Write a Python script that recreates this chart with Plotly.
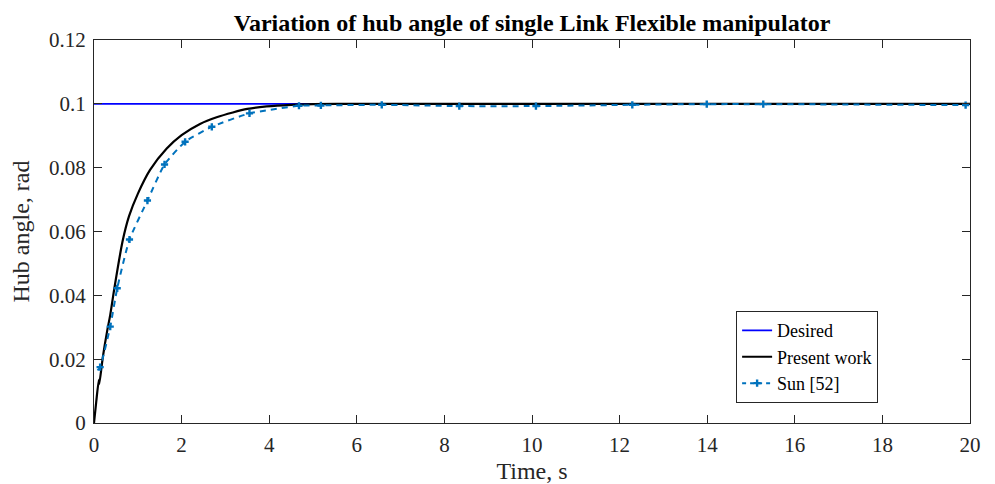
import plotly.graph_objects as go

# ---- data ----
desired_t = [0, 20]
desired_y = [0.1, 0.1]

present_t = [0, 0.05, 0.11, 0.12, 0.2, 0.3, 0.37, 0.46, 0.65, 0.8, 1.0, 1.28, 1.66, 2.0, 2.42, 2.8, 3.17, 3.5, 3.94, 4.5, 5.0, 6.0, 8.0, 10.0, 12.0, 14.0, 16.0, 18.0, 20.0]
present_y = [0, 0.0065, 0.0135, 0.0122, 0.0205, 0.0288, 0.0338, 0.0418, 0.0568, 0.0648, 0.0718, 0.0793, 0.086, 0.0902, 0.0937, 0.0958, 0.0973, 0.0984, 0.0992, 0.0997, 0.0999, 0.1, 0.1, 0.1, 0.1, 0.1, 0.1, 0.1, 0.1]

sun_t = [0.08, 0.14, 0.37, 0.53, 0.81, 1.22, 1.61, 2.08, 2.69, 3.55, 4.68, 5.18, 6.57, 8.34, 10.09, 12.29, 13.99, 15.28, 19.9]
sun_y = [0.0165, 0.0175, 0.0302, 0.0422, 0.0575, 0.0697, 0.081, 0.0881, 0.0928, 0.097, 0.0994, 0.0995, 0.0997, 0.0993, 0.0993, 0.0997, 0.0999, 0.0999, 0.0996]
sun_marker_t = sun_t[1:]
sun_marker_y = sun_y[1:]

x_ticks = [0, 2, 4, 6, 8, 10, 12, 14, 16, 18, 20]
y_ticks = [0, 0.02, 0.04, 0.06, 0.08, 0.1, 0.12]
y_tick_text = ["0", "0.02", "0.04", "0.06", "0.08", "0.1", "0.12"]

FONT = "Liberation Serif"
SUN_COLOR = "#0072BD"
SUN_DASH = "6px,5px"

fig = go.Figure()
fig.add_trace(go.Scatter(x=desired_t, y=desired_y, mode="lines", name="Desired",
                         line=dict(color="#0000FF", width=1.8)))
fig.add_trace(go.Scatter(x=present_t, y=present_y, mode="lines", name="Present work",
                         line=dict(color="#000000", width=2.2, shape="spline", smoothing=0.7)))
fig.add_trace(go.Scatter(x=sun_t, y=sun_y, mode="lines", name="Sun [52]",
                         line=dict(color=SUN_COLOR, width=2, dash=SUN_DASH, shape="spline", smoothing=0.5),
                         showlegend=False))
fig.add_trace(go.Scatter(x=sun_marker_t, y=sun_marker_y, mode="markers", name="Sun [52]",
                         marker=dict(symbol="cross", size=6, color=SUN_COLOR),
                         showlegend=False))
# legend entry for Sun [52] (line + marker)
fig.add_trace(go.Scatter(x=[None], y=[None], mode="lines+markers", name="Sun [52]",
                         line=dict(color=SUN_COLOR, width=2, dash="4px,4px"),
                         marker=dict(symbol="cross", size=6, color=SUN_COLOR)))

axis_common = dict(showline=True, linecolor="#262626", linewidth=1, mirror="ticks",
                   ticks="inside", ticklen=8, tickcolor="#262626", tickwidth=1,
                   showgrid=False, zeroline=False, ticklabelstandoff=3, automargin=False,
                   tickfont=dict(family=FONT, size=21, color="#262626"))

fig.update_layout(
    width=995, height=484,
    margin=dict(l=94, r=25, t=40, b=61),
    paper_bgcolor="white", plot_bgcolor="white",
    font=dict(family=FONT, color="#262626"),
    title=dict(text="<b>Variation of hub angle of single Link Flexible manipulator</b>",
               x=0.5347, xanchor="center", y=0.953, yanchor="middle",
               font=dict(family=FONT, size=24, color="#000000")),
    xaxis=dict(range=[0, 20], tickvals=x_ticks,
               title=dict(text="Time, s", font=dict(family=FONT, size=24, color="#262626"), standoff=6),
               **axis_common),
    yaxis=dict(range=[0, 0.12], tickvals=y_ticks, ticktext=y_tick_text,
               title=dict(text="Hub angle, rad", font=dict(family=FONT, size=24, color="#262626"), standoff=12),
               **axis_common),
    legend=dict(x=0.733, y=0.292, xanchor="left", yanchor="top",
                bgcolor="white", bordercolor="#262626", borderwidth=1,
                font=dict(family=FONT, size=18, color="#000000"),
                tracegroupgap=0, itemwidth=30),
    showlegend=True,
)

fig.write_html("out.html")
